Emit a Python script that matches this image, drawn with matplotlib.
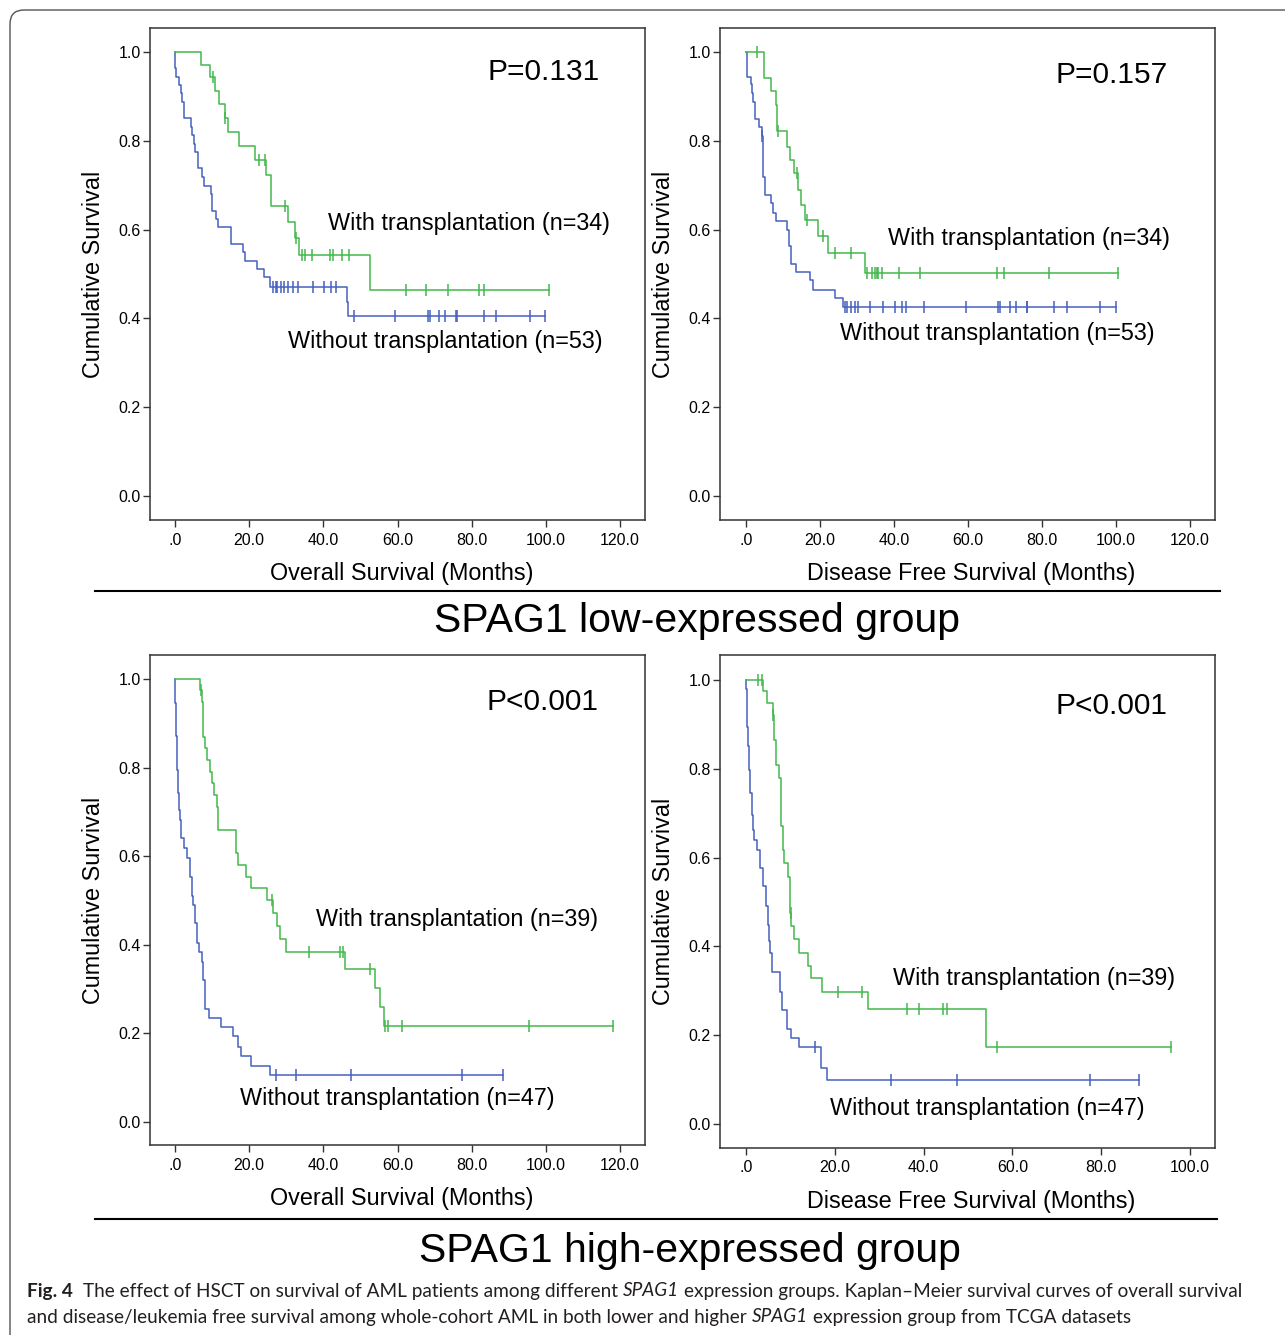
import numpy as np
import matplotlib.pyplot as plt
from matplotlib.lines import Line2D
from matplotlib.patches import FancyBboxPatch

# ---------------- data ----------------
# SPAG1 low, overall survival
os_low_tx_t = [7.1, 9.3, 10.9, 11.8, 13.4, 14.3, 17.3, 21.5, 24.6, 26.0, 30.5, 32.3, 33.4, 52.6]
os_low_tx_s = [0.971, 0.943, 0.912, 0.882, 0.851, 0.820, 0.788, 0.757, 0.722, 0.654, 0.618, 0.580, 0.543, 0.464]
os_low_tx_c = [10.3, 13.6, 22.6, 24.2, 29.6, 32.6, 34.2, 35.0, 36.8, 41.8, 42.5, 44.9, 47.0,
               62.3, 67.7, 73.6, 81.9, 83.4, 100.7]
os_low_no_t = [0.1, 0.3, 1.1, 1.5, 1.9, 2.3, 4.2, 4.5, 5.0, 5.5, 6.1, 7.4, 7.7, 9.8, 10.1, 11.0, 11.7,
               15.2, 18.4, 19.0, 22.2, 24.0, 25.6, 46.3, 46.7]
os_low_no_s = [0.963, 0.944, 0.926, 0.907, 0.888, 0.851, 0.830, 0.813, 0.793, 0.774, 0.738, 0.719, 0.699,
               0.680, 0.643, 0.624, 0.605, 0.568, 0.549, 0.530, 0.511, 0.493, 0.471, 0.438, 0.405]
os_low_no_c = [26.5, 27.1, 27.6, 28.5, 29.4, 30.5, 31.7, 33.2, 37.1, 40.2, 42.0, 43.4, 48.3, 59.4,
               68.2, 68.8, 71.3, 72.8, 75.8, 76.0, 83.3, 86.6, 95.6, 99.8]

# SPAG1 low, disease free survival
dfs_low_tx_t = [4.9, 6.7, 8.0, 8.3, 11.2, 12.0, 12.9, 14.1, 14.8, 16.0, 19.4, 22.2, 32.3]
dfs_low_tx_s = [0.941, 0.911, 0.881, 0.821, 0.787, 0.757, 0.727, 0.689, 0.655, 0.622, 0.586, 0.548, 0.502]
dfs_low_tx_c = [3.1, 8.7, 13.7, 16.4, 20.9, 24.1, 28.5, 32.8, 34.0, 34.9, 35.3, 35.7, 36.9, 41.4, 47.0,
                67.8, 69.7, 82.0, 100.6]
dfs_low_no_t = [0.2, 0.4, 1.3, 1.6, 2.0, 2.3, 3.6, 4.2, 4.7, 5.1, 6.8, 7.4, 8.0, 11.2, 11.6, 12.2, 13.4,
                17.3, 18.2, 24.1, 26.3]
dfs_low_no_s = [0.963, 0.944, 0.929, 0.907, 0.888, 0.849, 0.830, 0.811, 0.719, 0.678, 0.659, 0.638, 0.619,
                0.599, 0.562, 0.523, 0.505, 0.486, 0.465, 0.445, 0.426]
dfs_low_no_c = [4.4, 26.8, 27.4, 28.5, 29.4, 30.4, 33.5, 37.1, 40.3, 42.1, 43.2, 48.2, 59.6, 68.2, 68.8,
                71.4, 73.0, 75.9, 76.1, 83.2, 86.7, 95.7, 99.9]

# SPAG1 high, overall survival
os_high_tx_t = [6.7, 7.2, 7.5, 8.1, 8.6, 9.4, 10.1, 10.6, 11.2, 11.5, 16.5, 17.1, 19.1, 20.4, 24.9, 26.5,
                27.4, 28.3, 29.9, 45.8, 53.9, 55.3, 56.4]
os_high_tx_s = [0.975, 0.949, 0.870, 0.844, 0.817, 0.791, 0.764, 0.738, 0.712, 0.659, 0.607, 0.580, 0.554,
                0.528, 0.501, 0.471, 0.443, 0.412, 0.383, 0.346, 0.302, 0.260, 0.217]
os_high_tx_c = [6.9, 26.1, 36.1, 44.5, 45.2, 52.6, 56.6, 57.3, 61.2, 95.5, 118.0]
os_high_no_t = [0.05, 0.1, 0.2, 0.27, 0.35, 0.45, 0.55, 0.63, 0.75, 0.9, 1.0, 1.08, 1.35, 1.6, 2.4, 3.1,
                3.95, 4.6, 4.9, 5.3, 5.8, 6.5, 7.2, 7.6, 8.2, 9.2, 12.4, 15.7, 17.1, 17.9, 20.4, 25.6]
os_high_no_s = [0.979, 0.945, 0.915, 0.896, 0.872, 0.825, 0.809, 0.795, 0.766, 0.742, 0.723, 0.704, 0.682,
                0.641, 0.618, 0.595, 0.554, 0.509, 0.490, 0.448, 0.403, 0.384, 0.362, 0.320, 0.256, 0.234,
                0.214, 0.193, 0.170, 0.149, 0.127, 0.106]
os_high_no_c = [27.1, 32.6, 47.5, 77.3, 88.3]

# SPAG1 high, disease free survival
dfs_high_tx_t = [3.8, 4.8, 6.0, 6.4, 6.7, 7.4, 7.8, 8.4, 8.6, 9.4, 9.8, 10.0, 10.2, 10.8, 11.9, 13.9, 14.6,
                 17.2, 27.4, 54.0]
dfs_high_tx_s = [0.974, 0.947, 0.921, 0.865, 0.808, 0.778, 0.670, 0.617, 0.587, 0.557, 0.531, 0.475, 0.445,
                 0.416, 0.386, 0.356, 0.328, 0.298, 0.260, 0.174]
dfs_high_tx_c = [2.8, 3.7, 6.1, 10.1, 20.6, 26.1, 36.2, 39.0, 44.4, 45.2, 56.6, 95.7]
dfs_high_no_t = [0.1, 0.15, 0.25, 0.3, 0.4, 0.5, 0.6, 0.7, 0.8, 0.9, 1.3, 1.4, 1.5, 1.8, 2.4, 3.2, 3.9, 4.5,
                 5.0, 5.2, 5.4, 5.8, 7.7, 8.0, 9.2, 10.1, 11.9, 16.8, 18.2]
dfs_high_no_s = [0.979, 0.947, 0.915, 0.895, 0.872, 0.850, 0.823, 0.797, 0.770, 0.745, 0.722, 0.695, 0.662,
                 0.640, 0.617, 0.576, 0.535, 0.490, 0.448, 0.413, 0.385, 0.343, 0.298, 0.257, 0.215, 0.193,
                 0.173, 0.125, 0.099]
dfs_high_no_c = [15.5, 32.7, 47.6, 77.5, 88.4]

GREEN = "#43B84B"
BLUE = "#4660BE"
FONT = ["Liberation Sans", "DejaVu Sans"]
plt.rcParams["font.family"] = FONT

W, H = 1285, 1335
fig = plt.figure(figsize=(W / 100, H / 100), dpi=100)


def px_axes(left, top, right, bottom):
    return fig.add_axes([left / W, 1 - bottom / H, (right - left) / W, (bottom - top) / H])


def km_line(ax, times, surv, censors, color):
    times = np.asarray(times)
    surv = np.asarray(surv)
    censors = np.asarray(censors)
    end = max(times[-1], censors[-1])
    t = np.concatenate([[0], times, [end]])
    s = np.concatenate([[1.0], surv, [surv[-1]]])
    ax.step(t, s, where="post", color=color, lw=1.1)
    idx = np.searchsorted(times, censors, side="right")
    lv = np.concatenate([[1.0], surv])[idx]
    ax.plot(censors, lv, ls="none", marker="|", ms=8, mew=1.1, color=color)


def setup(ax, xmax, xlim, ylim, xlabel):
    ax.set_xlim(*xlim)
    ax.set_ylim(*ylim)
    xt = np.arange(0, xmax + 1, 20)
    ax.set_xticks(xt)
    ax.set_xticklabels([".0"] + ["%.1f" % v for v in xt[1:]])
    yt = np.arange(0, 1.01, 0.2)
    ax.set_yticks(yt)
    ax.set_yticklabels(["%.1f" % v for v in yt])
    ax.tick_params(direction="out", length=5, width=1.0, labelsize=11.5, color="#333333")
    ax.tick_params(axis="y", pad=1.5)
    ax.tick_params(axis="x", pad=4)
    for sp in ax.spines.values():
        sp.set_color("#333333")
        sp.set_linewidth(1.1)
    ax.set_xlabel(xlabel, fontsize=16.8)
    ax.xaxis.set_label_coords(0.508, -0.086)
    ax.set_ylabel("Cumulative Survival", fontsize=16.8, labelpad=10)


panels = [
    # box(px), xmax, xlim, ylim, xlabel, data, P, texts
    ((150, 28, 645, 520), 120, (-6.74, 126.7), (-0.054, 1.054), "Overall Survival (Months)",
     (os_low_tx_t, os_low_tx_s, os_low_tx_c, os_low_no_t, os_low_no_s, os_low_no_c),
     ("P=0.131", 114.6, 0.955), ("With transplantation (n=34)", 41.3, 0.613),
     ("Without transplantation (n=53)", 30.5, 0.347)),
    ((720, 28, 1215, 520), 120, (-7.03, 126.8), (-0.054, 1.054), "Disease Free Survival (Months)",
     (dfs_low_tx_t, dfs_low_tx_s, dfs_low_tx_c, dfs_low_no_t, dfs_low_no_s, dfs_low_no_c),
     ("P=0.157", 114.1, 0.948), ("With transplantation (n=34)", 38.4, 0.581),
     ("Without transplantation (n=53)", 25.4, 0.367)),
    ((150, 655, 645, 1145), 120, (-6.74, 126.7), (-0.052, 1.054), "Overall Survival (Months)",
     (os_high_tx_t, os_high_tx_s, os_high_tx_c, os_high_no_t, os_high_no_s, os_high_no_c),
     ("P<0.001", 114.1, 0.948), ("With transplantation (n=39)", 38.0, 0.458),
     ("Without transplantation (n=47)", 17.5, 0.054)),
    ((720, 655, 1215, 1148), 100, (-5.86, 105.6), (-0.054, 1.056), "Disease Free Survival (Months)",
     (dfs_high_tx_t, dfs_high_tx_s, dfs_high_tx_c, dfs_high_no_t, dfs_high_no_s, dfs_high_no_c),
     ("P<0.001", 94.8, 0.941), ("With transplantation (n=39)", 33.1, 0.327),
     ("Without transplantation (n=47)", 18.9, 0.036)),
]

for box, xmax, xlim, ylim, xlabel, d, ptxt, wtxt, wotxt in panels:
    ax = px_axes(*box)
    km_line(ax, d[3], d[4], d[5], BLUE)
    km_line(ax, d[0], d[1], d[2], GREEN)
    setup(ax, xmax, xlim, ylim, xlabel)
    ax.text(ptxt[1], ptxt[2], ptxt[0], fontsize=21.5, ha="right", va="center")
    ax.text(wtxt[1], wtxt[2], wtxt[0], fontsize=16.8, ha="left", va="center")
    ax.text(wotxt[1], wotxt[2], wotxt[0], fontsize=16.8, ha="left", va="center")

# separators and group titles
for y, x1 in [(591, 1220), (1219, 1217)]:
    fig.add_artist(Line2D([95 / W, x1 / W], [1 - y / H] * 2, color="black", lw=1.5))
fig.text(697 / W, 1 - 621 / H, "SPAG1 low-expressed group", fontsize=29.5, ha="center", va="center")
fig.text(690 / W, 1 - 1251 / H, "SPAG1 high-expressed group", fontsize=29.5, ha="center", va="center")

# outer rounded frame
frame = FancyBboxPatch((10, -30), W + 40, H - 10 + 30, boxstyle="round,pad=0,rounding_size=14",
                       transform=None, fill=False, edgecolor="#555555", lw=1.0)
fig.add_artist(frame)

# caption
CAP_FONT = ["Lato", "DejaVu Sans"]
renderer = fig.canvas.get_renderer()
line1 = [("Fig. 4", "bold", "normal"),
         ("The effect of HSCT on survival of AML patients among different", "normal", "normal"),
         ("SPAG1", "normal", "italic"),
         ("expression groups. Kaplan\u2013Meier survival curves of overall survival", "normal", "normal")]
line2 = [("and disease/leukemia free survival among whole-cohort AML in both lower and higher", "normal", "normal"),
         ("SPAG1", "normal", "italic"),
         ("expression group from TCGA datasets", "normal", "normal")]


def seg_width(txt, size, weight, style):
    t = fig.text(0, 0, txt, fontsize=size, fontweight=weight, fontstyle=style, family=CAP_FONT)
    w = t.get_window_extent(renderer).width
    t.remove()
    return w


def line_width(segs, size):
    sp = seg_width("a a", size, "normal", "normal") - seg_width("aa", size, "normal", "normal")
    return sum(seg_width(s, size, w, st) for s, w, st in segs) + sp * (len(segs) - 1) + sp, sp


base = 13.0
lw1, _ = line_width(line1, base)
cap_size = base * (1243 - 27) / lw1


def draw_line(segs, y):
    sp = seg_width("a a", cap_size, "normal", "normal") - seg_width("aa", cap_size, "normal", "normal")
    x = 27
    for i, (s, w, st) in enumerate(segs):
        t = fig.text(x / W, 1 - y / H, s, fontsize=cap_size, fontweight=w, fontstyle=st,
                     family=CAP_FONT, va="center", ha="left", color="#231f20")
        x += t.get_window_extent(renderer).width + sp * (2 if i == 0 and segs is line1 else 1)


draw_line(line1, 1291)
draw_line(line2, 1317)

fig.savefig("out.png", dpi=100)
